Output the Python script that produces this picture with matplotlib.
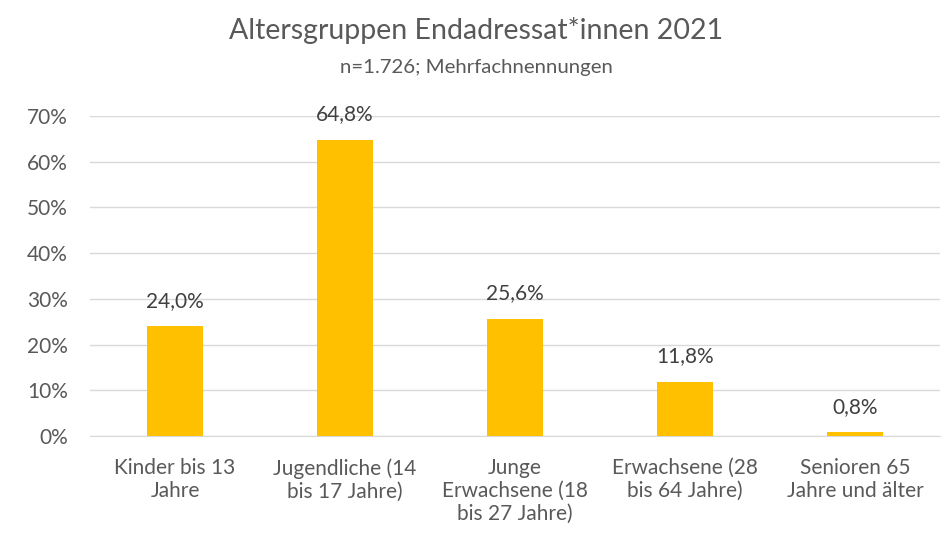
import matplotlib
matplotlib.use("Agg")
import matplotlib.pyplot as plt
import numpy as np

plt.rcParams['font.family'] = ['Lato', 'DejaVu Sans']

categories = ["Kinder bis 13\nJahre", "Jugendliche (14\nbis 17 Jahre)", "Junge\nErwachsene (18\nbis 27 Jahre)",
              "Erwachsene (28\nbis 64 Jahre)", "Senioren 65\nJahre und älter"]
values = [24.0, 64.8, 25.6, 11.8, 0.8]
labels = ["24,0%", "64,8%", "25,6%", "11,8%", "0,8%"]
yticks = [0, 10, 20, 30, 40, 50, 60, 70]

fig = plt.figure(figsize=(9.53, 5.37), dpi=100)
ax = fig.add_axes([90/953, 1-436/537, 850/953, 320/537])
x = np.arange(len(categories))
ax.bar(x, values, width=0.33, color='#FFC000', zorder=3)
for xi, v, lab in zip(x, values, labels):
    ax.text(xi, v + 5.6, lab, ha='center', va='center', fontsize=15, color='#404040', zorder=4)
ax.set_xlim(-0.5, len(categories) - 0.5)
ax.set_ylim(0, 70)
ax.set_yticks(yticks)
ax.set_yticklabels([f"{t}%" for t in yticks], fontsize=15, color='#595959')
ax.set_xticks(x)
ax.set_xticklabels(categories, fontsize=15, color='#595959', linespacing=1.18)
ax.tick_params(axis='x', length=0, pad=16)
ax.tick_params(axis='y', length=0, pad=16)
ax.grid(axis='y', color='#D9D9D9', linewidth=1, zorder=0)
for s in ['top', 'right', 'left']:
    ax.spines[s].set_visible(False)
ax.spines['bottom'].set_color('#D9D9D9')
fig.text(0.5, 1-30/537, "Altersgruppen Endadressat*innen 2021", ha='center', va='center', fontsize=20.5, color='#595959')
fig.text(0.5, 1-68/537, "n=1.726; Mehrfachnennungen", ha='center', va='center', fontsize=14.7, color='#595959')
fig.savefig("out.png", dpi=100)
